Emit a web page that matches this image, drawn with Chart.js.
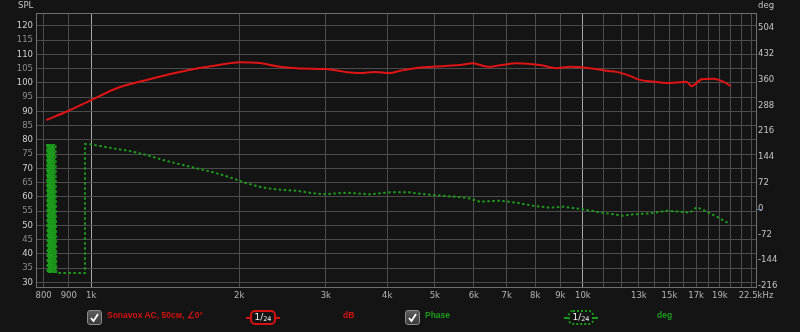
<!DOCTYPE html>
<html>
<head>
<meta charset="utf-8">
<script src="https://cdn.jsdelivr.net/npm/chart.js@4.4.1/dist/chart.umd.min.js"></script>
<style>
  html, body { margin: 0; padding: 0; background: #141414; }
  #wrap { position: relative; width: 800px; height: 332px; background: #141414; overflow: hidden; }
  #chart { position: absolute; left: 0; top: 0; }
  .axis-title { position: absolute; top: 0; font: 8.5px "DejaVu Sans", sans-serif; color: #c4c4c4; line-height: 11px; }
  .legend { position: absolute; top: 310px; height: 14px; line-height: 14px; font: bold 8.5px "Liberation Sans", sans-serif; white-space: nowrap; }
  .check { position: absolute; top: 310px; width: 13px; height: 13px; border: 1px solid #8c8c8c; border-radius: 3px;
           background: linear-gradient(#5c5c5c, #3c3c3c); }
  .check svg { position: absolute; left: 1px; top: 1px; }
  .smooth { position: absolute; top: 310px; width: 22px; height: 11px; border-radius: 5px; color: #f0f0f0;
            font: 9px "DejaVu Sans", sans-serif; line-height: 11px; text-align: center; }
  .smooth sub { font-size: 6.5px; vertical-align: -1px; }
  .stub { position: absolute; top: 317px; width: 4px; height: 0; }
</style>
</head>
<body>
<div id="wrap">
  <canvas id="chart" width="800" height="332"></canvas>
  <div class="axis-title" style="left:18px">SPL</div>
  <div class="axis-title" style="left:758px">deg</div>

  <div class="check" style="left:87px"><svg width="11" height="11"><polyline points="2,6 4.5,9 9,2" fill="none" stroke="#fff" stroke-width="1.8"/></svg></div>
  <div class="legend" style="left:107px;color:#d41212">Sonavox AC, 50см, ∠0°</div>
  <div class="stub" style="left:246px;border-top:2px solid #d41212"></div>
  <div class="smooth" style="left:250px;border:2px solid #d41212">1/<sub>24</sub></div>
  <div class="stub" style="left:276px;border-top:2px solid #d41212"></div>
  <div class="legend" style="left:343px;color:#d41212">dB</div>

  <div class="check" style="left:405px"><svg width="11" height="11"><polyline points="2,6 4.5,9 9,2" fill="none" stroke="#fff" stroke-width="1.8"/></svg></div>
  <div class="legend" style="left:425px;color:#1c9a1c">Phase</div>
  <div class="stub" style="left:564px;border-top:2px dotted #1c9a1c"></div>
  <div class="smooth" style="left:568px;border:2px dotted #1c9a1c">1/<sub>24</sub></div>
  <div class="stub" style="left:594px;border-top:2px dotted #1c9a1c"></div>
  <div class="legend" style="left:657px;color:#1c9a1c">deg</div>
</div>

<script>
// SPL curve (Hz, dB)
const splFreq = [810, 890, 1000, 1140, 1320, 1480, 1660, 1830, 2000, 2200, 2420, 2660, 3000, 3280, 3520, 3780,
  4050, 4250, 4590, 4950, 5620, 5970, 6410, 6780, 7330, 8180, 8840, 9410, 10330, 11170, 11710, 12460,
  13060, 13880, 14800, 15510, 16250, 16640, 17440, 18410, 19290, 20000];
const splValues = [87.0, 89.9, 94.0, 98.5, 101.4, 103.5, 105.3, 106.4, 107.3, 107.0, 105.7, 105.1, 104.9, 103.9, 103.5, 103.9,
  103.5, 104.3, 105.3, 105.7, 106.3, 106.9, 105.7, 106.2, 106.9, 106.3, 105.2, 105.7, 105.2, 104.3, 103.9, 102.5,
  101.1, 100.5, 100.0, 100.2, 100.4, 98.9, 101.3, 101.5, 100.5, 98.9];

// Phase curve (Hz, deg) - wrapped at +/-180 below 1k
const phaseFreq = [813, 815, 815, 820, 820, 823, 823, 828, 828, 831, 831, 836, 836, 840, 840, 846, 846, 849,
  971, 971, 994, 1041, 1108, 1198, 1296, 1401,
  1515, 1638, 1771, 1915, 2070, 2238, 2420, 2617, 2828, 2963, 3307, 3688, 4050, 4413, 4962, 5800, 6172,
  6780, 7330, 7925, 8570, 9120, 10000, 10830, 12080, 12660, 13690, 14800, 15750, 16510, 17030, 17440, 18700, 19910];
const phaseValues = [180, -180, 180, -180, 180, -180, 180, -180, 180, -180, 180, -180, 180, -180, 180, -180, 180, -180,
  -180, 180, 179.4, 174.7, 168.2, 160.7, 149.5, 135.6,
  123.6, 112.4, 101.3, 87.3, 70.6, 58.3, 52.7, 49.9, 42.6, 39.9, 44.3, 39.9, 45.4, 45.4, 37.9, 30.4, 19.2,
  22.0, 16.4, 8.0, 2.5, 5.3, -2.0, -10.4, -19.9, -16.0, -13.2, -5.9, -8.7, -11.5, 3.6, -1.2, -22.6, -43.0];

// Tick positions and labels
const freqTicks = [800, 900, 1000, 2000, 3000, 4000, 5000, 6000, 7000, 8000, 9000, 10000,
  11000, 12000, 13000, 14000, 15000, 16000, 17000, 18000, 19000, 20000, 21000, 22000, 22500];
const freqLabels = ['800', '900', '1k', '2k', '3k', '4k', '5k', '6k', '7k', '8k', '9k', '10k',
  '', '', '13k', '', '15k', '', '17k', '', '19k', '', '', '', '22.5kHz'];
const splTicks = [30, 35, 40, 45, 50, 55, 60, 65, 70, 75, 80, 85, 90, 95, 100, 105, 110, 115, 120];
const degTicks = [-216, -144, -72, 0, 72, 144, 216, 288, 360, 432, 504];

const tickFont = { family: 'DejaVu Sans', size: 8.5 };

// frame around plot + small phase zero marker
const framePlugin = {
  id: 'frame',
  afterDatasetsDraw(chart) {
    const { ctx, chartArea: a } = chart;
    ctx.save();
    ctx.strokeStyle = '#707070';
    ctx.lineWidth = 1;
    ctx.strokeRect(a.left + 0.5, a.top + 0.5, a.right - a.left, a.bottom - a.top);
    const y0 = Math.round(chart.scales.y1.getPixelForValue(0)) + 0.5;
    ctx.strokeStyle = '#5a78b0';
    ctx.beginPath();
    ctx.moveTo(a.right + 1, y0);
    ctx.lineTo(a.right + 6, y0);
    ctx.stroke();
    ctx.restore();
  }
};

new Chart(document.getElementById('chart'), {
  type: 'line',
  data: {
    datasets: [
      {
        label: 'SPL',
        data: splFreq.map((f, i) => ({ x: f, y: splValues[i] })),
        yAxisID: 'y',
        borderColor: '#e01414',
        borderWidth: 2,
        pointRadius: 0,
        cubicInterpolationMode: 'monotone'
      },
      {
        label: 'Phase',
        data: phaseFreq.map((f, i) => ({ x: f, y: phaseValues[i] })),
        yAxisID: 'y1',
        borderColor: '#1c9a1c',
        borderWidth: 2,
        borderDash: [2.5, 2.5],
        pointRadius: 0,
        tension: 0
      }
    ]
  },
  options: {
    responsive: false,
    animation: false,
    events: [],
    layout: { padding: { top: 13 } },
    plugins: { legend: { display: false }, tooltip: { enabled: false } },
    scales: {
      x: {
        type: 'logarithmic',
        min: 772,
        max: 22500,
        afterBuildTicks: (s) => { s.ticks = freqTicks.map(v => ({ value: v })); },
        afterFit: (s) => { s.height = 45; },
        grid: {
          color: (c) => (c.tick && (c.tick.value === 1000 || c.tick.value === 10000)) ? '#a8a8a8' : '#4c4c4c',
          drawTicks: false
        },
        border: { display: false },
        ticks: {
          autoSkip: false,
          maxRotation: 0,
          padding: 4,
          font: tickFont,
          color: '#b4b4b4',
          callback: (v, i) => freqLabels[i]
        }
      },
      y: {
        position: 'left',
        min: 28.42,
        max: 124.56,
        afterBuildTicks: (s) => { s.ticks = splTicks.map(v => ({ value: v })); },
        afterFit: (s) => { s.width = 36; },
        grid: { color: '#4c4c4c', drawTicks: false },
        border: { display: false },
        ticks: {
          padding: 3,
          font: tickFont,
          color: (c) => (c.tick.value % 10 === 0) ? '#cfcfcf' : '#8c8c8c',
          callback: (v) => String(v)
        }
      },
      y1: {
        position: 'right',
        min: -218.8,
        max: 545.9,
        afterBuildTicks: (s) => { s.ticks = degTicks.map(v => ({ value: v })); },
        afterFit: (s) => { s.width = 44; },
        grid: { drawOnChartArea: false, drawTicks: false, display: false },
        border: { display: false },
        ticks: {
          padding: 2,
          font: tickFont,
          color: '#c4c4c4',
          callback: (v) => String(v)
        }
      }
    }
  },
  plugins: [framePlugin]
});
</script>
</body>
</html>
